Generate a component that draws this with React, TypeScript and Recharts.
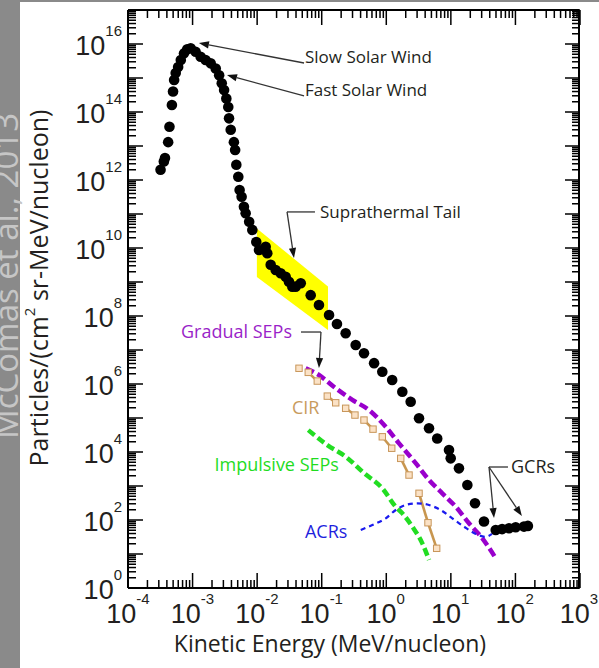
import React from 'react';
import { ComposedChart, XAxis, YAxis, Scatter, Line, Area, ReferenceLine, ReferenceDot } from 'recharts';

// ---------- axes ----------
const X_DECADES = [-4, -3, -2, -1, 0, 1, 2, 3];
const Y_DECADES = [0, 1, 2, 3, 4, 5, 6, 7, 8, 9, 10, 11, 12, 13, 14, 15, 16, 17];
const Y_LABEL_DECADES = [0, 2, 4, 6, 8, 10, 12, 14, 16];
const MINOR_MULTIPLIERS = [2, 3, 4, 5, 6, 7, 8, 9];

// ---------- data (E in MeV/nucleon, flux in particles/(cm2 sr MeV/nucleon)) ----------
const solarWind = [
  { e: 3.2e-4, f: 2.0e12 }, { e: 3.6e-4, f: 3.5e12 }, { e: 3.75e-4, f: 4.4e12 },
  { e: 4.2e-4, f: 1.3e13 }, { e: 4.4e-4, f: 3.7e13 }, { e: 4.8e-4, f: 1.6e14 },
  { e: 5.0e-4, f: 4.0e14 }, { e: 5.2e-4, f: 8.7e14 }, { e: 5.5e-4, f: 1.4e15 },
  { e: 6.0e-4, f: 2.1e15 }, { e: 6.6e-4, f: 3.4e15 }, { e: 7.4e-4, f: 5.3e15 },
  { e: 8.3e-4, f: 7.0e15 }, { e: 9.4e-4, f: 7.5e15 }, { e: 1.12e-3, f: 5.9e15 },
  { e: 1.34e-3, f: 4.2e15 }, { e: 1.6e-3, f: 3.4e15 }, { e: 1.92e-3, f: 2.7e15 },
  { e: 2.3e-3, f: 1.9e15 }, { e: 2.6e-3, f: 1.2e15 }, { e: 2.85e-3, f: 7.0e14 },
  { e: 3.1e-3, f: 4.4e14 }, { e: 3.36e-3, f: 2.5e14 }, { e: 3.6e-3, f: 1.4e14 },
  { e: 3.7e-3, f: 6.5e13 }, { e: 3.93e-3, f: 3.0e13 }, { e: 4.4e-3, f: 1.3e13 },
  { e: 4.6e-3, f: 7.6e12 }, { e: 4.8e-3, f: 2.8e12 }, { e: 5.15e-3, f: 1.25e12 },
  { e: 5.4e-3, f: 5.1e11 }, { e: 5.8e-3, f: 3.2e11 }, { e: 6.3e-3, f: 1.64e11 },
  { e: 6.7e-3, f: 1.05e11 }, { e: 7.6e-3, f: 5.9e10 }, { e: 8.5e-3, f: 3.4e10 },
  { e: 9.8e-3, f: 1.5e10 }, { e: 1.08e-2, f: 8.7e9 }, { e: 1.37e-2, f: 1.09e10 },
  { e: 1.45e-2, f: 7.0e9 }, { e: 1.64e-2, f: 3.2e9 }, { e: 1.96e-2, f: 2.25e9 },
  { e: 2.34e-2, f: 1.8e9 }, { e: 2.8e-2, f: 1.43e9 }, { e: 3.15e-2, f: 1.02e9 },
  { e: 3.55e-2, f: 7.3e8 }, { e: 4.0e-2, f: 7.3e8 }, { e: 4.8e-2, f: 9.2e8 },
  { e: 6.85e-2, f: 4.1e8 }, { e: 9.2e-2, f: 2.1e8 }, { e: 0.132, f: 1.07e8 },
  { e: 0.175, f: 5.8e7 }, { e: 0.239, f: 3.1e7 }, { e: 0.342, f: 1.4e7 },
  { e: 0.46, f: 8.0e6 }, { e: 0.66, f: 4.1e6 }, { e: 0.885, f: 2.3e6 },
  { e: 1.26, f: 1.31e6 }, { e: 1.81, f: 5.9e5 }, { e: 2.44, f: 3.0e5 },
  { e: 3.29, f: 9.8e4 }, { e: 4.7, f: 5.0e4 }, { e: 6.3, f: 2.5e4 },
  { e: 9.6, f: 1.15e4 }, { e: 10.2, f: 6.5e3 }, { e: 13.7, f: 3.3e3 },
  { e: 18.5, f: 1.07e3 }, { e: 24.3, f: 310 }, { e: 33.5, f: 90 },
];

const gcr = [
  { e: 51, f: 51 }, { e: 64, f: 54 }, { e: 82, f: 57 },
  { e: 104, f: 61 }, { e: 140, f: 64 }, { e: 161, f: 67 },
];

const gradualSEP = [
  { e: 0.0573, f: 2.9e6 }, { e: 0.092, f: 1.84e6 }, { e: 0.1675, f: 7.5e5 },
  { e: 0.303, f: 3.4e5 }, { e: 0.55, f: 1.72e5 }, { e: 1.0, f: 5.5e4 },
  { e: 1.61, f: 1.8e4 }, { e: 2.92, f: 4.7e3 }, { e: 4.7, f: 1.5e3 },
  { e: 7.55, f: 610 }, { e: 12.2, f: 246 }, { e: 19.6, f: 80 },
  { e: 31.6, f: 29 }, { e: 51, f: 7.5 },
];

const cir = [
  { e: 0.0451, f: 2.9e6 }, { e: 0.0628, f: 2.2e6 }, { e: 0.0867, f: 1.22e6 },
  { e: 0.124, f: 4.4e5 }, { e: 0.1675, f: 2.8e5 }, { e: 0.239, f: 1.93e5 },
  { e: 0.333, f: 1.22e5 }, { e: 0.46, f: 8.7e4 }, { e: 0.635, f: 4.7e4 },
  { e: 0.885, f: 2.8e4 }, { e: 1.24, f: 1.29e4 }, { e: 1.71, f: 6.5e3 },
  { e: 2.3, f: 2.1e3 }, { e: 3.29, f: 610 }, { e: 4.53, f: 83 },
  { e: 6.18, f: 14.7 },
];
const CIR_SEGMENTS = [[1, 2], [3, 4], [5, 6], [7, 8], [9, 10], [11, 12], [13, 14], [14, 15]];

const impulsiveSEP = [
  { e: 0.0628, f: 4.4e4 }, { e: 0.124, f: 1.6e4 }, { e: 0.239, f: 7.3e3 },
  { e: 0.46, f: 2.4e3 }, { e: 0.885, f: 855 }, { e: 1.43, f: 246 },
  { e: 1.81, f: 157 }, { e: 2.59, f: 64 }, { e: 3.7, f: 20.6 },
  { e: 4.7, f: 6.7 },
];

const acr = [
  { e: 0.41, f: 51 }, { e: 0.62, f: 71 }, { e: 1.0, f: 112 },
  { e: 1.43, f: 197 }, { e: 2.04, f: 276 }, { e: 3.09, f: 310 },
  { e: 4.7, f: 276 }, { e: 7.1, f: 197 }, { e: 10.8, f: 112 },
  { e: 16.4, f: 64 }, { e: 25, f: 39 }, { e: 35.6, f: 32 },
  { e: 44.7, f: 39 },
];

const suprathermalBand = [
  { e: 1.0e-2, band: [1.4e9, 3.75e10] },
  { e: 0.127, band: [3.9e7, 7.4e8] },
];

// ---------- annotations ----------
const annotationTexts = [
  { text: 'Slow Solar Wind', e: 0.0558, f: 4.15e15, anchor: 'start', color: '#231f20', size: 17 },
  { text: 'Fast Solar Wind', e: 0.0558, f: 4.44e14, anchor: 'start', color: '#231f20', size: 17 },
  { text: 'Suprathermal Tail', e: 0.0955, f: 1.15e11, anchor: 'start', color: '#231f20', size: 17 },
  { text: 'Gradual SEPs', e: 0.0351, f: 3.38e7, anchor: 'end', color: '#9a1fc8', size: 18 },
  { text: 'CIR', e: 0.0351, f: 1.97e5, anchor: 'start', color: '#c89b5e', size: 18 },
  { text: 'Impulsive SEPs', e: 0.188, f: 4.15e3, anchor: 'end', color: '#1fdc1f', size: 18 },
  { text: 'ACRs', e: 0.0558, f: 44.4, anchor: 'start', color: '#1f1fdd', size: 18 },
  { text: 'GCRs', e: 88, f: 3.62e3, anchor: 'start', color: '#231f20', size: 18 },
];

const annotationArrows = [
  { x1: 0.054, y1: 2.76e15, x2: 1.26e-3, y2: 1.07e16, head: true },
  { x1: 0.054, y1: 2.96e14, x2: 3.44e-3, y2: 1.22e15, head: true },
  { x1: 0.0798, y1: 1.15e11, x2: 0.0294, y2: 1.15e11, head: false },
  { x1: 0.0294, y1: 1.15e11, x2: 0.0377, y2: 5.08e9, head: true },
  { x1: 0.0484, y1: 3.38e7, x2: 0.0989, y2: 3.38e7, head: false },
  { x1: 0.0989, y1: 3.38e7, x2: 0.092, y2: 2.96e6, head: true },
  { x1: 79, y1: 3.62e3, x2: 40.1, y2: 3.62e3, head: false },
  { x1: 40.1, y1: 3.62e3, x2: 48, y2: 114.6, head: true },
  { x1: 40.1, y1: 3.62e3, x2: 130, y2: 131, head: true },
];

// ---------- helpers ----------
const clean = (v: number) => Number(v.toPrecision(6));
const buildTicks = (decades: number[]) => {
  const out: number[] = [];
  decades.forEach((d, i) => {
    out.push(clean(Math.pow(10, d)));
    if (i < decades.length - 1) MINOR_MULTIPLIERS.forEach((m) => out.push(clean(m * Math.pow(10, d))));
  });
  return out;
};
const xTicks = buildTicks(X_DECADES);
const yTicks = buildTicks(Y_DECADES);
const xMajor = X_DECADES.map((d) => clean(Math.pow(10, d)));
const yMajor = Y_DECADES.map((d) => clean(Math.pow(10, d)));
const decadeOf = (v: number) => {
  const l = Math.log10(v);
  const r = Math.round(l);
  return Math.abs(l - r) < 1e-6 ? r : null;
};

// plot frame (matches chart margins + 1px axis sizes)
const PLOT = { left: 128, right: 580, top: 10, bottom: 588 };
const X_MIN = -4, X_MAX = 3, Y_MIN = 0, Y_MAX = 17;
const px = (v: number) => PLOT.left + ((Math.log10(v) - X_MIN) / (X_MAX - X_MIN)) * (PLOT.right - PLOT.left);
const py = (v: number) => PLOT.bottom - ((Math.log10(v) - Y_MIN) / (Y_MAX - Y_MIN)) * (PLOT.bottom - PLOT.top);

const TICK_FONT = '"Liberation Sans", Arial, Helvetica, sans-serif';
const TEXT_FONT = '"Open Sans", "Noto Sans", sans-serif';
const MAJOR = 15;
const MINOR = 8;
const TICK_W = 1.5;

const BottomLabel = (p: any) => {
  const { x, y, payload } = p;
  const d = decadeOf(payload.value);
  if (d === null) return <g />;
  return (
    <text x={x} y={y + 35} textAnchor="middle" fontFamily={TICK_FONT} fontSize={27} fill="#231f20">
      10<tspan dy={-19} fontSize={15}>{String(d)}</tspan>
    </text>
  );
};
const LeftLabel = (p: any) => {
  const { x, y, payload } = p;
  const d = decadeOf(payload.value);
  if (d === null || !Y_LABEL_DECADES.includes(d)) return <g />;
  return (
    <text x={x - 6} y={y + 11} textAnchor="end" fontFamily={TICK_FONT} fontSize={27} fill="#231f20">
      10<tspan dy={-19} fontSize={15}>{String(d)}</tspan>
    </text>
  );
};

const arrowShape = (withHead: boolean) => (p: any) => {
  const { x1, y1, x2, y2 } = p;
  const ang = Math.atan2(y2 - y1, x2 - x1);
  const len = 10;
  const half = 3.6;
  const bx = x2 - len * Math.cos(ang);
  const by = y2 - len * Math.sin(ang);
  const nx = -Math.sin(ang) * half;
  const ny = Math.cos(ang) * half;
  return (
    <g>
      <line x1={x1} y1={y1} x2={withHead ? bx : x2} y2={withHead ? by : y2} stroke="#333" strokeWidth={1.3} />
      {withHead && <polygon points={`${x2},${y2} ${bx + nx},${by + ny} ${bx - nx},${by - ny}`} fill="#111" />}
    </g>
  );
};

const dotShape = (p: any) => <circle cx={p.cx} cy={p.cy} r={5.3} fill="#000" />;
const cirMarker = (p: any) => (
  <rect key={`m${p.index}`} x={p.cx - 3.2} y={p.cy - 3.2} width={6.4} height={6.4} fill="#fbe2c6" stroke="#c8965a" strokeWidth={1} />
);

export default function App() {
  return (
    <div style={{ position: 'absolute', left: 0, top: 0, width: 599, height: 668, background: '#fff' }}>
      <ComposedChart width={599} height={668} margin={{ top: 9, right: 19, bottom: 79, left: 127 }}>
        <Area data={suprathermalBand} dataKey="band" type="linear" fill="#ffff00" fillOpacity={1} stroke="none" isAnimationActive={false} />

        <Line data={gradualSEP} dataKey="f" type="monotone" stroke="#9900cc" strokeWidth={4.5} strokeDasharray="9 4" dot={false} isAnimationActive={false} />
        {CIR_SEGMENTS.map(([a, b], i) => (
          <Line key={`cir${i}`} data={[cir[a], cir[b]]} dataKey="f" type="linear" stroke="#c8964f" strokeWidth={2.6} dot={false} isAnimationActive={false} />
        ))}
        <Line data={cir} dataKey="f" type="linear" stroke="none" dot={cirMarker} isAnimationActive={false} />
        <Line data={impulsiveSEP} dataKey="f" type="monotone" stroke="#22dd22" strokeWidth={4.5} strokeDasharray="8 4" dot={false} isAnimationActive={false} />
        <Line data={acr} dataKey="f" type="monotone" stroke="#1a1aee" strokeWidth={2.2} strokeDasharray="5 4" dot={false} isAnimationActive={false} />

        <Scatter data={solarWind} shape={dotShape} isAnimationActive={false} />
        <Scatter data={gcr} shape={dotShape} isAnimationActive={false} />

        {annotationArrows.map((a, i) => (
          <ReferenceLine key={`ar${i}`} segment={[{ x: a.x1, y: a.y1 }, { x: a.x2, y: a.y2 }]} ifOverflow="visible" shape={arrowShape(a.head)} />
        ))}
        {annotationTexts.map((t, i) => (
          <ReferenceDot key={`tx${i}`} x={t.e} y={t.f} r={0} ifOverflow="visible"
            shape={(p: any) => (
              <text x={p.cx} y={p.cy} dy={6} textAnchor={t.anchor} fontFamily={TEXT_FONT} fontSize={t.size} fill={t.color}>{t.text}</text>
            )} />
        ))}

        <XAxis dataKey="e" type="number" scale="log" domain={[1e-4, 1e3]} allowDataOverflow ticks={xMajor}
          interval={0} tickSize={0} tickMargin={0} height={1} axisLine={{ stroke: '#000', strokeWidth: 2 }} tickLine={false}
          tick={(p: any) => <BottomLabel {...p} />} />
        <XAxis xAxisId="t" orientation="top" dataKey="e" type="number" scale="log" domain={[1e-4, 1e3]} allowDataOverflow
          ticks={xMajor} interval={0} tickSize={0} tickMargin={0} height={1} axisLine={{ stroke: '#000', strokeWidth: 2 }} tickLine={false} tick={false} />
        <YAxis dataKey="f" type="number" scale="log" domain={[1, 1e17]} allowDataOverflow ticks={yMajor}
          interval={0} tickSize={0} tickMargin={0} width={1} axisLine={{ stroke: '#000', strokeWidth: 2 }} tickLine={false}
          tick={(p: any) => <LeftLabel {...p} />} />
        <YAxis yAxisId="r" orientation="right" dataKey="f" type="number" scale="log" domain={[1, 1e17]} allowDataOverflow
          ticks={yMajor} interval={0} tickSize={0} tickMargin={0} width={1} axisLine={{ stroke: '#000', strokeWidth: 2 }} tickLine={false} tick={false} />
      </ComposedChart>

      <svg width={599} height={668} style={{ position: 'absolute', left: 0, top: 0, pointerEvents: 'none' }}>
        <rect x={0} y={0} width={20} height={668} fill="#8a8a8a" />
        <rect x={0} y={0} width={599} height={2} fill="#8a8a8a" />
        <text transform="translate(18,276) rotate(-90)" textAnchor="middle" fontFamily={TEXT_FONT} fontSize={33} fill="#c6c6c6">
          McComas et al., 2013
        </text>
        <text transform="translate(48,288) rotate(-90)" textAnchor="middle" fontFamily={TEXT_FONT} fontSize={25} fill="#231f20">
          Particles/(cm<tspan dy={-13} fontSize={15}>2</tspan><tspan dy={13}> sr-MeV/nucleon)</tspan>
        </text>
        <text x={330} y={652} textAnchor="middle" fontFamily={TEXT_FONT} fontSize={23} fill="#231f20">
          Kinetic Energy (MeV/nucleon)
        </text>
        <g stroke="#000" strokeWidth={TICK_W}>
          {xTicks.map((v) => {
            const x = px(v);
            const L = xMajor.includes(v) ? MAJOR : MINOR;
            return (
              <g key={`xt${v}`}>
                <line x1={x} x2={x} y1={PLOT.bottom} y2={PLOT.bottom - L} />
                <line x1={x} x2={x} y1={PLOT.top} y2={PLOT.top + L} />
              </g>
            );
          })}
          {yTicks.map((v) => {
            const y = py(v);
            const L = yMajor.includes(v) ? MAJOR : MINOR;
            return (
              <g key={`yt${v}`}>
                <line x1={PLOT.left} x2={PLOT.left + L} y1={y} y2={y} />
                <line x1={PLOT.right} x2={PLOT.right - L} y1={y} y2={y} />
              </g>
            );
          })}
        </g>
      </svg>
    </div>
  );
}
